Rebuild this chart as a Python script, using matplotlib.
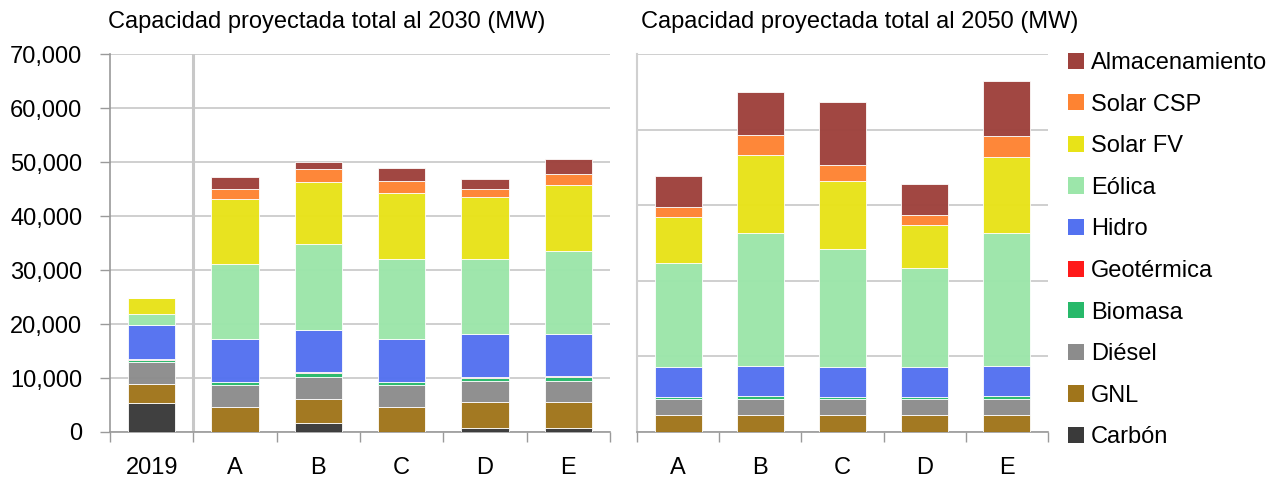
import matplotlib
matplotlib.use("Agg")
import matplotlib.pyplot as plt
from matplotlib.patches import Patch
from matplotlib.ticker import FuncFormatter, FixedLocator, NullFormatter
import numpy as np

# Capacity by technology (MW)
techs = ["Carbón", "GNL", "Diésel", "Biomasa", "Geotérmica", "Hidro",
         "Eólica", "Solar FV", "Solar CSP", "Almacenamiento"]
colors = ["#3a3a3a", "#a0751b", "#8c8c8c", "#27b96a", "#ff1a1a", "#5371f0",
          "#9ce6aa", "#e8e318", "#fe8332", "#9e413c"]

cats_2030 = ["2019", "A", "B", "C", "D", "E"]
carbon_2030 = [5400, 0, 1600, 0, 800, 800]
gnl_2030 = [3400, 4700, 4550, 4700, 4700, 4700]
diesel_2030 = [4100, 4000, 3950, 3950, 4000, 4000]
biomasa_2030 = [500, 500, 850, 600, 550, 750]
geotermica_2030 = [60, 60, 150, 60, 60, 150]
hidro_2030 = [6300, 8000, 7850, 8000, 8000, 7700]
eolica_2030 = [2100, 13800, 15900, 14700, 13900, 15400]
solar_fv_2030 = [2900, 12100, 11400, 12200, 11500, 12200]
solar_csp_2030 = [100, 1800, 2450, 2250, 1400, 2100]
almac_2030 = [0, 2300, 1350, 2400, 1900, 2800]

cats_2050 = ["A", "B", "C", "D", "E"]
carbon_2050 = [0, 0, 0, 0, 0]
gnl_2050 = [4500, 4500, 4500, 4500, 4500]
diesel_2050 = [4100, 4100, 4100, 4100, 4100]
biomasa_2050 = [550, 800, 550, 550, 800]
geotermica_2050 = [60, 60, 60, 60, 60]
hidro_2050 = [7900, 7900, 7900, 7900, 7900]
eolica_2050 = [27700, 35300, 31400, 26200, 35400]
solar_fv_2050 = [12100, 20500, 17800, 11400, 20100]
solar_csp_2050 = [2600, 5300, 4400, 2700, 5500]
almac_2050 = [8300, 11500, 16600, 8200, 14600]

series_2030 = [carbon_2030, gnl_2030, diesel_2030, biomasa_2030, geotermica_2030,
               hidro_2030, eolica_2030, solar_fv_2030, solar_csp_2030, almac_2030]
series_2050 = [carbon_2050, gnl_2050, diesel_2050, biomasa_2050, geotermica_2050,
               hidro_2050, eolica_2050, solar_fv_2050, solar_csp_2050, almac_2050]

plt.rcParams["font.family"] = ["Liberation Sans", "DejaVu Sans"]

FS = 17
GRID = "#cccccc"
AXIS = "#9a9a9a"
BAR_W = 0.57

fig = plt.figure(figsize=(12.72, 4.79), dpi=100)
W, H = 1272, 479
ax1 = fig.add_axes([110 / W, (H - 432) / H, 500 / W, 378 / H])
ax2 = fig.add_axes([637 / W, (H - 432) / H, 411 / W, 378 / H])


def stacked(ax, cats, series):
    x = np.arange(len(cats))
    bottom = np.zeros(len(cats))
    for vals, col in zip(series, colors):
        v = np.array(vals, dtype=float)
        ax.bar(x, v, BAR_W, bottom=bottom, color=col, alpha=0.97,
               edgecolor=(1, 1, 1, 0.3), linewidth=0.6, zorder=3)
        bottom += v
    ax.set_xlim(-0.5, len(cats) - 0.5)
    # category boundaries carry the tick marks, labels sit at centres
    ax.xaxis.set_major_locator(FixedLocator(np.arange(len(cats) + 1) - 0.5))
    ax.xaxis.set_major_formatter(NullFormatter())
    ax.xaxis.set_minor_locator(FixedLocator(x))
    ax.set_xticklabels(cats, minor=True, fontsize=FS)
    ax.tick_params(axis="x", which="major", length=7, width=1, color=AXIS, direction="out")
    ax.tick_params(axis="x", which="minor", length=0, pad=18)
    ax.grid(axis="y", color=GRID, linewidth=1.3, zorder=0)
    ax.set_axisbelow(True)
    for s in ("top", "right"):
        ax.spines[s].set_visible(False)
    ax.spines["bottom"].set_color(AXIS)
    ax.spines["bottom"].set_linewidth(1.2)


stacked(ax1, cats_2030, series_2030)
ax1.set_ylim(0, 70000)
ax1.set_yticks(np.arange(0, 70001, 10000))
ax1.yaxis.set_major_formatter(FuncFormatter(lambda v, p: f"{int(v):,}"))
ax1.tick_params(axis="y", length=7, width=1, color=AXIS, labelsize=FS, pad=13)
ax1.spines["left"].set_color(AXIS)
ax1.spines["left"].set_linewidth(1.2)
ax1.axvline(0.5, color="#c8c8c8", linewidth=2.2, zorder=1)

stacked(ax2, cats_2050, series_2050)
ax2.set_ylim(0, 100000)
ax2.set_yticks(np.arange(0, 100001, 20000))
ax2.tick_params(axis="y", length=0, labelleft=False)
ax2.spines["left"].set_color("#d0d0d0")
ax2.spines["left"].set_linewidth(1.5)

fig.text(108 / W, 1 - 22 / H, "Capacidad proyectada total al 2030 (MW)",
         fontsize=FS, ha="left", va="center")
fig.text(641 / W, 1 - 22 / H, "Capacidad proyectada total al 2050 (MW)",
         fontsize=FS, ha="left", va="center")

handles = [Patch(facecolor=c, edgecolor="none") for c in colors][::-1]
fig.legend(handles, techs[::-1], loc="upper left", bbox_to_anchor=(1068 / W, 1 - 52 / H),
           frameon=False, fontsize=FS, handlelength=0.68, handleheight=0.68,
           handletextpad=0.3, labelspacing=0.83, borderaxespad=0, borderpad=0)

fig.savefig("out.png", dpi=100)
